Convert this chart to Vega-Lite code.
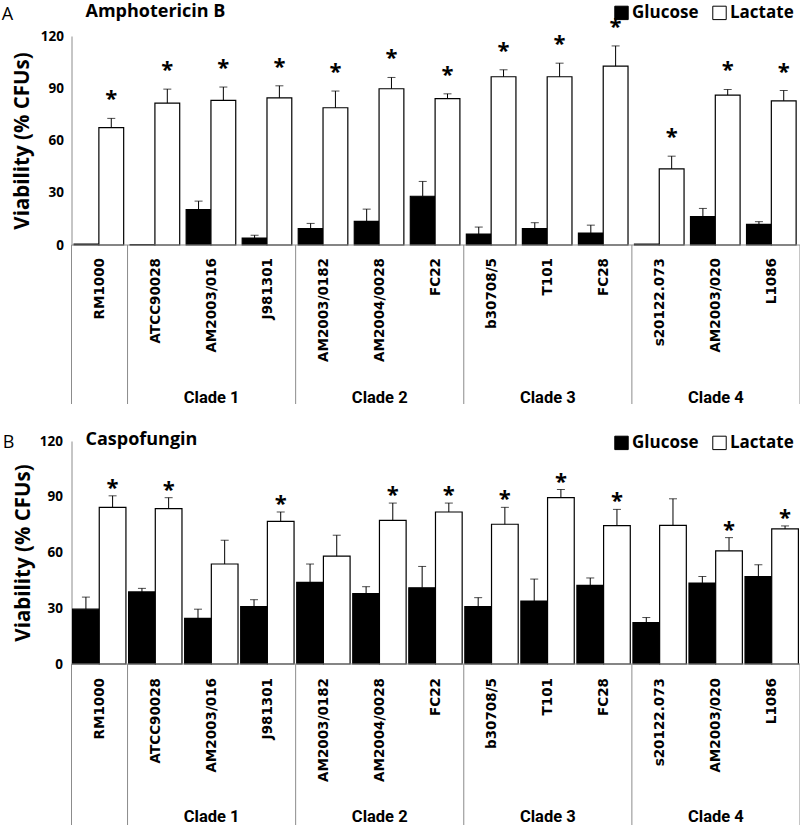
{
  "$schema": "https://vega.github.io/schema/vega-lite/v6.json",
  "background": "white",
  "padding": {"left": 1.5, "top": 2, "right": 0, "bottom": 0},
  "config": {"view": {"stroke": null}, "font": "Open Sans", "axis": {"grid": false}},
  "datasets": {
    "viability": [
      {"drug": "Amphotericin B", "strain": "RM1000", "condition": "Glucose", "value": 0.5, "upper": null, "sig": ""},
      {"drug": "Amphotericin B", "strain": "RM1000", "condition": "Lactate", "value": 67.4, "upper": 72.7, "sig": "*"},
      {"drug": "Amphotericin B", "strain": "ATCC90028", "condition": "Glucose", "value": 0.2, "upper": null, "sig": ""},
      {"drug": "Amphotericin B", "strain": "ATCC90028", "condition": "Lactate", "value": 81.5, "upper": 89.5, "sig": "*"},
      {"drug": "Amphotericin B", "strain": "AM2003/016", "condition": "Glucose", "value": 20.3, "upper": 25.2, "sig": ""},
      {"drug": "Amphotericin B", "strain": "AM2003/016", "condition": "Lactate", "value": 83.0, "upper": 90.7, "sig": "*"},
      {"drug": "Amphotericin B", "strain": "J981301", "condition": "Glucose", "value": 4.0, "upper": 5.6, "sig": ""},
      {"drug": "Amphotericin B", "strain": "J981301", "condition": "Lactate", "value": 84.5, "upper": 91.4, "sig": "*"},
      {"drug": "Amphotericin B", "strain": "AM2003/0182", "condition": "Glucose", "value": 9.4, "upper": 12.4, "sig": ""},
      {"drug": "Amphotericin B", "strain": "AM2003/0182", "condition": "Lactate", "value": 78.8, "upper": 88.4, "sig": "*"},
      {"drug": "Amphotericin B", "strain": "AM2004/0028", "condition": "Glucose", "value": 13.6, "upper": 20.6, "sig": ""},
      {"drug": "Amphotericin B", "strain": "AM2004/0028", "condition": "Lactate", "value": 89.7, "upper": 96.2, "sig": "*"},
      {"drug": "Amphotericin B", "strain": "FC22", "condition": "Glucose", "value": 28.0, "upper": 36.5, "sig": ""},
      {"drug": "Amphotericin B", "strain": "FC22", "condition": "Lactate", "value": 84.0, "upper": 86.8, "sig": "*"},
      {"drug": "Amphotericin B", "strain": "b30708/5", "condition": "Glucose", "value": 6.3, "upper": 10.3, "sig": ""},
      {"drug": "Amphotericin B", "strain": "b30708/5", "condition": "Lactate", "value": 96.6, "upper": 100.6, "sig": "*"},
      {"drug": "Amphotericin B", "strain": "T101", "condition": "Glucose", "value": 9.4, "upper": 12.8, "sig": ""},
      {"drug": "Amphotericin B", "strain": "T101", "condition": "Lactate", "value": 96.6, "upper": 104.4, "sig": "*"},
      {"drug": "Amphotericin B", "strain": "FC28", "condition": "Glucose", "value": 6.9, "upper": 11.4, "sig": ""},
      {"drug": "Amphotericin B", "strain": "FC28", "condition": "Lactate", "value": 102.7, "upper": 114.3, "sig": "*"},
      {"drug": "Amphotericin B", "strain": "s20122.073", "condition": "Glucose", "value": 0.5, "upper": null, "sig": ""},
      {"drug": "Amphotericin B", "strain": "s20122.073", "condition": "Lactate", "value": 43.7, "upper": 51.0, "sig": "*"},
      {"drug": "Amphotericin B", "strain": "AM2003/020", "condition": "Glucose", "value": 16.3, "upper": 21.0, "sig": ""},
      {"drug": "Amphotericin B", "strain": "AM2003/020", "condition": "Lactate", "value": 86.1, "upper": 89.3, "sig": "*"},
      {"drug": "Amphotericin B", "strain": "L1086", "condition": "Glucose", "value": 11.8, "upper": 13.4, "sig": ""},
      {"drug": "Amphotericin B", "strain": "L1086", "condition": "Lactate", "value": 82.8, "upper": 88.7, "sig": "*"},
      {"drug": "Caspofungin", "strain": "RM1000", "condition": "Glucose", "value": 29.5, "upper": 36.0, "sig": ""},
      {"drug": "Caspofungin", "strain": "RM1000", "condition": "Lactate", "value": 84.3, "upper": 90.5, "sig": "*"},
      {"drug": "Caspofungin", "strain": "ATCC90028", "condition": "Glucose", "value": 38.8, "upper": 40.7, "sig": ""},
      {"drug": "Caspofungin", "strain": "ATCC90028", "condition": "Lactate", "value": 83.6, "upper": 89.5, "sig": "*"},
      {"drug": "Caspofungin", "strain": "AM2003/016", "condition": "Glucose", "value": 24.6, "upper": 29.5, "sig": ""},
      {"drug": "Caspofungin", "strain": "AM2003/016", "condition": "Lactate", "value": 53.8, "upper": 66.6, "sig": ""},
      {"drug": "Caspofungin", "strain": "J981301", "condition": "Glucose", "value": 30.9, "upper": 34.6, "sig": ""},
      {"drug": "Caspofungin", "strain": "J981301", "condition": "Lactate", "value": 76.8, "upper": 81.8, "sig": "*"},
      {"drug": "Caspofungin", "strain": "AM2003/0182", "condition": "Glucose", "value": 43.9, "upper": 53.8, "sig": ""},
      {"drug": "Caspofungin", "strain": "AM2003/0182", "condition": "Lactate", "value": 58.0, "upper": 69.3, "sig": ""},
      {"drug": "Caspofungin", "strain": "AM2004/0028", "condition": "Glucose", "value": 37.9, "upper": 41.6, "sig": ""},
      {"drug": "Caspofungin", "strain": "AM2004/0028", "condition": "Lactate", "value": 77.3, "upper": 86.6, "sig": "*"},
      {"drug": "Caspofungin", "strain": "FC22", "condition": "Glucose", "value": 41.0, "upper": 52.5, "sig": ""},
      {"drug": "Caspofungin", "strain": "FC22", "condition": "Lactate", "value": 81.8, "upper": 86.6, "sig": "*"},
      {"drug": "Caspofungin", "strain": "b30708/5", "condition": "Glucose", "value": 30.9, "upper": 35.7, "sig": ""},
      {"drug": "Caspofungin", "strain": "b30708/5", "condition": "Lactate", "value": 75.2, "upper": 84.3, "sig": "*"},
      {"drug": "Caspofungin", "strain": "T101", "condition": "Glucose", "value": 33.9, "upper": 45.7, "sig": ""},
      {"drug": "Caspofungin", "strain": "T101", "condition": "Lactate", "value": 89.5, "upper": 93.9, "sig": "*"},
      {"drug": "Caspofungin", "strain": "FC28", "condition": "Glucose", "value": 42.3, "upper": 46.3, "sig": ""},
      {"drug": "Caspofungin", "strain": "FC28", "condition": "Lactate", "value": 74.5, "upper": 83.2, "sig": "*"},
      {"drug": "Caspofungin", "strain": "s20122.073", "condition": "Glucose", "value": 22.3, "upper": 25.0, "sig": ""},
      {"drug": "Caspofungin", "strain": "s20122.073", "condition": "Lactate", "value": 74.6, "upper": 88.9, "sig": ""},
      {"drug": "Caspofungin", "strain": "AM2003/020", "condition": "Glucose", "value": 43.6, "upper": 47.1, "sig": ""},
      {"drug": "Caspofungin", "strain": "AM2003/020", "condition": "Lactate", "value": 60.9, "upper": 68.0, "sig": "*"},
      {"drug": "Caspofungin", "strain": "L1086", "condition": "Glucose", "value": 47.0, "upper": 53.4, "sig": ""},
      {"drug": "Caspofungin", "strain": "L1086", "condition": "Lactate", "value": 72.7, "upper": 74.3, "sig": "*"}
    ],
    "clades": [
      {"clade": "", "first": "RM1000", "center": "RM1000", "last": "RM1000"},
      {"clade": "Clade 1", "first": "ATCC90028", "center": "AM2003/016", "last": "J981301"},
      {"clade": "Clade 2", "first": "AM2003/0182", "center": "AM2004/0028", "last": "FC22"},
      {"clade": "Clade 3", "first": "b30708/5", "center": "T101", "last": "FC28"},
      {"clade": "Clade 4", "first": "s20122.073", "center": "AM2003/020", "last": "L1086"}
    ]
  },
  "spacing": 24,
  "resolve": {"scale": {"x": "independent", "y": "independent", "xOffset": "independent", "fill": "independent"}, "legend": {"fill": "independent"}},
  "vconcat": [
    {
      "title": {"text": "A", "anchor": "start", "frame": "bounds", "fontWeight": "normal", "fontSize": 18, "font": "Open Sans", "color": "black", "offset": -35, "dx": -10.5, "baseline": "alphabetic"},
      "spacing": 0,
      "bounds": "flush",
      "resolve": {"scale": {"x": "independent", "y": "independent", "xOffset": "independent", "fill": "independent"}, "legend": {"fill": "independent"}},
      "vconcat": [
        {
          "width": 728.5,
          "height": 209,
          "title": {"text": "Amphotericin B", "anchor": "start", "frame": "group", "dx": 14, "fontSize": 18, "fontWeight": "bold", "font": "Open Sans", "color": "black", "baseline": "alphabetic", "offset": -30.5},
          "data": {"name": "viability"},
          "transform": [{"filter": "datum.drug == 'Amphotericin B'"}],
          "encoding": {
            "x": {"field": "strain", "type": "nominal", "sort": null,
              "scale": {"domain": ["RM1000","ATCC90028","AM2003/016","J981301","AM2003/0182","AM2004/0028","FC22","b30708/5","T101","FC28","s20122.073","AM2003/020","L1086"], "paddingInner": 0, "paddingOuter": 0},
              "axis": null},
            "xOffset": {"field": "condition", "type": "nominal", "scale": {"domain": ["Glucose", "Lactate"], "paddingInner": 0, "paddingOuter": 0.13, "align": 0.4}}
          },
          "layer": [
            {
              "mark": {"type": "bar", "stroke": "black", "strokeWidth": 1.2},
              "encoding": {
                "y": {"field": "value", "type": "quantitative", "title": "Viability (% CFUs)",
                  "scale": {"domain": [0, 120], "nice": false},
                  "axis": {"values": [0, 30, 60, 90, 120], "ticks": false, "domainColor": "#8c8c8c", "labelFont": "Open Sans", "labelFontWeight": "bold", "labelFontSize": 13.5, "labelColor": "black", "labelPadding": 8, "titleFont": "Open Sans", "titleFontSize": 20.5, "titleFontWeight": "bold", "titleColor": "black", "titlePadding": 8}},
                "fill": {"field": "condition", "type": "nominal",
                  "scale": {"domain": ["Glucose", "Lactate"], "range": ["black", "white"]},
                  "legend": {"orient": "none", "legendX": 541.5, "legendY": -32, "direction": "horizontal", "title": null, "symbolType": "square", "symbolSize": 180, "symbolStrokeColor": "black", "symbolStrokeWidth": 1, "labelFont": "Open Sans", "labelFontSize": 17, "labelFontWeight": "bold", "labelColor": "black", "labelOffset": 2, "columnPadding": 11}}
              }
            },
            {
              "transform": [{"filter": "datum.upper != null"}],
              "mark": {"type": "rule", "color": "black", "strokeWidth": 1},
              "encoding": {
                "y": {"field": "value", "type": "quantitative", "title": "Viability (% CFUs)"},
                "y2": {"field": "upper"}
              }
            },
            {
              "transform": [{"filter": "datum.upper != null"}],
              "mark": {"type": "tick", "color": "black", "thickness": 1, "size": 8},
              "encoding": {
                "y": {"field": "upper", "type": "quantitative", "title": "Viability (% CFUs)"}
              }
            },
            {
              "transform": [{"filter": "datum.sig == '*'"}],
              "mark": {"type": "text", "font": "Open Sans", "fontSize": 22, "fontWeight": "bold", "color": "black", "baseline": "alphabetic", "dy": -12},
              "encoding": {
                "y": {"field": "upper", "type": "quantitative", "title": "Viability (% CFUs)"},
                "text": {"field": "sig"}
              }
            }
          ]
        },
        {
          "width": 728.5,
          "height": 159,
          "layer": [
            {
              "data": {"name": "clades"},
              "transform": [{"filter": "datum.clade == ''"}],
              "mark": {"type": "rule", "color": "#8c8c8c", "strokeWidth": 1},
              "encoding": {
                "y": {"datum": 1, "type": "quantitative", "scale": {"domain": [0, 1], "nice": false}, "axis": null}
              }
            },
            {
              "data": {"name": "clades"},
              "mark": {"type": "rule", "color": "#8c8c8c", "strokeWidth": 1},
              "encoding": {
                "x": {"field": "first", "type": "nominal", "bandPosition": 0, "sort": null,
                  "scale": {"domain": ["RM1000","ATCC90028","AM2003/016","J981301","AM2003/0182","AM2004/0028","FC22","b30708/5","T101","FC28","s20122.073","AM2003/020","L1086"], "paddingInner": 0, "paddingOuter": 0},
                  "axis": null}
              }
            },
            {
              "data": {"name": "clades"},
              "transform": [{"filter": "datum.clade == 'Clade 4'"}],
              "mark": {"type": "rule", "color": "#8c8c8c", "strokeWidth": 1},
              "encoding": {
                "x": {"field": "last", "type": "nominal", "bandPosition": 1, "axis": null}
              }
            },
            {
              "data": {"name": "viability"},
              "transform": [{"filter": "datum.drug == 'Amphotericin B' && datum.condition == 'Glucose'"}],
              "mark": {"type": "text", "angle": 270, "align": "right", "baseline": "middle", "dx": -13, "font": "DejaVu Sans", "fontWeight": "bold", "fontSize": 13.5, "color": "black"},
              "encoding": {
                "x": {"field": "strain", "type": "nominal", "axis": null},
                "y": {"datum": 1, "type": "quantitative", "axis": null},
                "text": {"field": "strain"}
              }
            },
            {
              "data": {"name": "clades"},
              "transform": [{"filter": "datum.clade != ''"}],
              "mark": {"type": "text", "baseline": "alphabetic", "dy": -1, "font": "Roboto", "fontWeight": "bold", "fontSize": 16.5, "color": "black"},
              "encoding": {
                "x": {"field": "center", "type": "nominal", "axis": null},
                "y": {"datum": 0, "type": "quantitative", "axis": null},
                "text": {"field": "clade"}
              }
            }
          ]
        }
      ]
    },
    {
      "title": {"text": "B", "anchor": "start", "frame": "bounds", "fontWeight": "normal", "fontSize": 18, "font": "Open Sans", "color": "black", "offset": -35, "dx": -10.5, "baseline": "alphabetic"},
      "spacing": 0,
      "bounds": "flush",
      "resolve": {"scale": {"x": "independent", "y": "independent", "xOffset": "independent", "fill": "independent"}, "legend": {"fill": "independent"}},
      "vconcat": [
        {
          "width": 728.5,
          "height": 223,
          "title": {"text": "Caspofungin", "anchor": "start", "frame": "group", "dx": 14, "fontSize": 18, "fontWeight": "bold", "font": "Open Sans", "color": "black", "baseline": "alphabetic", "offset": -29},
          "data": {"name": "viability"},
          "transform": [{"filter": "datum.drug == 'Caspofungin'"}],
          "encoding": {
            "x": {"field": "strain", "type": "nominal", "sort": null,
              "scale": {"domain": ["RM1000","ATCC90028","AM2003/016","J981301","AM2003/0182","AM2004/0028","FC22","b30708/5","T101","FC28","s20122.073","AM2003/020","L1086"], "paddingInner": 0, "paddingOuter": 0},
              "axis": null},
            "xOffset": {"field": "condition", "type": "nominal", "scale": {"domain": ["Glucose", "Lactate"], "paddingInner": 0, "paddingOuter": 0.05, "align": 0.4}}
          },
          "layer": [
            {
              "mark": {"type": "bar", "stroke": "black", "strokeWidth": 1.2},
              "encoding": {
                "y": {"field": "value", "type": "quantitative", "title": "Viability (% CFUs)",
                  "scale": {"domain": [0, 120], "nice": false},
                  "axis": {"values": [0, 30, 60, 90, 120], "ticks": false, "domainColor": "#8c8c8c", "labelFont": "Open Sans", "labelFontWeight": "bold", "labelFontSize": 13.5, "labelColor": "black", "labelPadding": 9, "titleFont": "Open Sans", "titleFontSize": 20.5, "titleFontWeight": "bold", "titleColor": "black", "titlePadding": 6}},
                "fill": {"field": "condition", "type": "nominal",
                  "scale": {"domain": ["Glucose", "Lactate"], "range": ["black", "white"]},
                  "legend": {"orient": "none", "legendX": 541.5, "legendY": -7, "direction": "horizontal", "title": null, "symbolType": "square", "symbolSize": 180, "symbolStrokeColor": "black", "symbolStrokeWidth": 1, "labelFont": "Open Sans", "labelFontSize": 17, "labelFontWeight": "bold", "labelColor": "black", "labelOffset": 2, "columnPadding": 11}}
              }
            },
            {
              "transform": [{"filter": "datum.upper != null"}],
              "mark": {"type": "rule", "color": "black", "strokeWidth": 1},
              "encoding": {
                "y": {"field": "value", "type": "quantitative", "title": "Viability (% CFUs)"},
                "y2": {"field": "upper"}
              }
            },
            {
              "transform": [{"filter": "datum.upper != null"}],
              "mark": {"type": "tick", "color": "black", "thickness": 1, "size": 8},
              "encoding": {
                "y": {"field": "upper", "type": "quantitative", "title": "Viability (% CFUs)"}
              }
            },
            {
              "transform": [{"filter": "datum.sig == '*'"}],
              "mark": {"type": "text", "font": "Open Sans", "fontSize": 22, "fontWeight": "bold", "color": "black", "baseline": "alphabetic", "dy": -1},
              "encoding": {
                "y": {"field": "upper", "type": "quantitative", "title": "Viability (% CFUs)"},
                "text": {"field": "sig"}
              }
            }
          ]
        },
        {
          "width": 728.5,
          "height": 161,
          "layer": [
            {
              "data": {"name": "clades"},
              "transform": [{"filter": "datum.clade == ''"}],
              "mark": {"type": "rule", "color": "#8c8c8c", "strokeWidth": 1},
              "encoding": {
                "y": {"datum": 1, "type": "quantitative", "scale": {"domain": [0, 1], "nice": false}, "axis": null}
              }
            },
            {
              "data": {"name": "clades"},
              "mark": {"type": "rule", "color": "#8c8c8c", "strokeWidth": 1},
              "encoding": {
                "x": {"field": "first", "type": "nominal", "bandPosition": 0, "sort": null,
                  "scale": {"domain": ["RM1000","ATCC90028","AM2003/016","J981301","AM2003/0182","AM2004/0028","FC22","b30708/5","T101","FC28","s20122.073","AM2003/020","L1086"], "paddingInner": 0, "paddingOuter": 0},
                  "axis": null}
              }
            },
            {
              "data": {"name": "clades"},
              "transform": [{"filter": "datum.clade == 'Clade 4'"}],
              "mark": {"type": "rule", "color": "#8c8c8c", "strokeWidth": 1},
              "encoding": {
                "x": {"field": "last", "type": "nominal", "bandPosition": 1, "axis": null}
              }
            },
            {
              "data": {"name": "viability"},
              "transform": [{"filter": "datum.drug == 'Caspofungin' && datum.condition == 'Glucose'"}],
              "mark": {"type": "text", "angle": 270, "align": "right", "baseline": "middle", "dx": -14, "font": "DejaVu Sans", "fontWeight": "bold", "fontSize": 13.5, "color": "black"},
              "encoding": {
                "x": {"field": "strain", "type": "nominal", "axis": null},
                "y": {"datum": 1, "type": "quantitative", "axis": null},
                "text": {"field": "strain"}
              }
            },
            {
              "data": {"name": "clades"},
              "transform": [{"filter": "datum.clade != ''"}],
              "mark": {"type": "text", "baseline": "alphabetic", "dy": -3, "font": "Roboto", "fontWeight": "bold", "fontSize": 16.5, "color": "black"},
              "encoding": {
                "x": {"field": "center", "type": "nominal", "axis": null},
                "y": {"datum": 0, "type": "quantitative", "axis": null},
                "text": {"field": "clade"}
              }
            }
          ]
        }
      ]
    }
  ]
}
